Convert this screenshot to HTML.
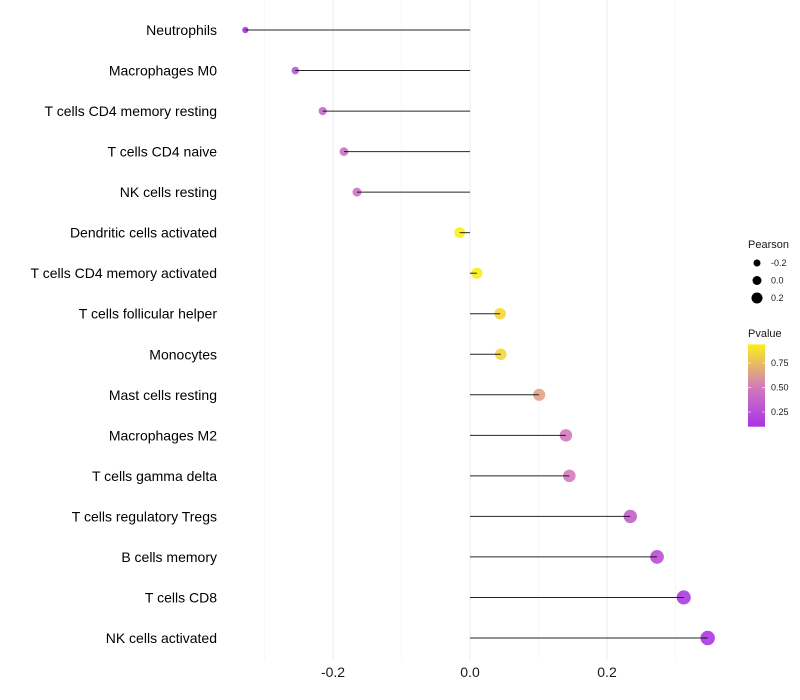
<!DOCTYPE html>
<html><head><meta charset="utf-8"><style>
body{margin:0;background:#fff;}
svg{display:block;font-family:"Liberation Sans",sans-serif;}
</style></head><body>
<svg id="chart" width="800" height="700"></svg>
<script>
const categories=["Neutrophils","Macrophages M0","T cells CD4 memory resting","T cells CD4 naive","NK cells resting","Dendritic cells activated","T cells CD4 memory activated","T cells follicular helper","Monocytes","Mast cells resting","Macrophages M2","T cells gamma delta","T cells regulatory  Tregs ","B cells memory","T cells CD8","NK cells activated"];
const pearson=[-0.328,-0.255,-0.215,-0.184,-0.165,-0.015,0.010,0.044,0.045,0.101,0.140,0.145,0.234,0.273,0.312,0.347];
const pvalue=[0.10,0.30,0.40,0.45,0.45,0.94,0.93,0.85,0.85,0.65,0.50,0.50,0.35,0.25,0.15,0.12];
const xTicks=[-0.2,0.0,0.2];
const xTickLabels=["-0.2","0.0","0.2"];
const xMinor=[-0.3,-0.1,0.1,0.3];
const sizeBreaks=[-0.2,0.0,0.2];
const pBreaks=[0.25,0.50,0.75];

const NS="http://www.w3.org/2000/svg";
const svg=document.getElementById('chart');
function mk(tag,attrs,parent){const e=document.createElementNS(NS,tag);for(const k in attrs)e.setAttribute(k,attrs[k]);(parent||svg).appendChild(e);return e;}
const x=v=>470+v*685;
const y=i=>30+i*(608/15);
const pmin=Math.min(...pvalue),pmax=Math.max(...pvalue),vmin=Math.min(...pearson),vmax=Math.max(...pearson);
const r=v=>Math.sqrt(10+(v-vmin)/(vmax-vmin)*42);
function lerp(a,b,t){return Math.round(a+(b-a)*t);}
const stops=[[0,[160,32,240]],[0.5,[210,122,190]],[1,[255,255,0]]];
function col(p){let t=Math.max(0,Math.min(1,p));for(let i=0;i<stops.length-1;i++){const[a,ca]=stops[i],[b,cb]=stops[i+1];if(t<=b){const u=(t-a)/(b-a);return `rgb(${lerp(ca[0],cb[0],u)},${lerp(ca[1],cb[1],u)},${lerp(ca[2],cb[2],u)})`;}}return 'rgb(255,255,0)';}

const grid=mk('g',{});


xMinor.forEach(v=>mk('line',{x1:x(v),x2:x(v),y1:0,y2:660,stroke:'#f2f2f2','stroke-width':0.6},grid));
xTicks.forEach(v=>mk('line',{x1:x(v),x2:x(v),y1:0,y2:660,stroke:'#ebebeb','stroke-width':1},grid));

xTicks.forEach((v,i)=>{const t=mk('text',{x:x(v),y:677,'text-anchor':'middle','font-size':14,fill:'#1a1a1a'});t.textContent=xTickLabels[i];

});

categories.forEach((c,i)=>{
const t=mk('text',{x:217,y:y(i)+5,'text-anchor':'end','font-size':14,fill:'#000'});t.textContent=c;


const pt=mk('circle',{cx:x(pearson[i]),cy:y(i),r:r(pearson[i]),fill:col(pvalue[i]),'fill-opacity':0.9});


const ln=mk('line',{x1:x(0),x2:x(pearson[i]),y1:y(i),y2:y(i),stroke:'#000','stroke-width':1,'stroke-opacity':0.85});


});

const lg=mk('g',{});


const lt=mk('text',{x:748,y:248,'font-size':11,fill:'#1a1a1a'},lg);lt.textContent='Pearson';
sizeBreaks.forEach((v,i)=>{const cy=263+i*17.5;const sr=3.5+i*1;
mk('circle',{cx:757,cy:cy,r:sr,fill:'#000'},lg);
const t=mk('text',{x:771,y:cy+3,'font-size':9,fill:'#1a1a1a'},lg);t.textContent=v.toFixed(1);});
const lt2=mk('text',{x:748,y:337,'font-size':11,fill:'#1a1a1a'},lg);lt2.textContent='Pvalue';
const defs=mk('defs',{});
const gr=mk('linearGradient',{id:'pg',x1:0,y1:1,x2:0,y2:0},defs);
const pyT=v=>436.5-v*98;
const gTop=pyT(pmax),gBot=pyT(pmin);
for(let k=0;k<=10;k++){const p=pmin+(pmax-pmin)*k/10;mk('stop',{offset:k/10,'stop-color':col(p)},gr);}
mk('rect',{x:748,y:gTop,width:17,height:gBot-gTop,fill:'url(#pg)'},lg);
pBreaks.forEach(v=>{const yy=pyT(v);
mk('line',{x1:748,x2:751,y1:yy,y2:yy,stroke:'#fff','stroke-width':0.6},lg);
mk('line',{x1:762,x2:765,y1:yy,y2:yy,stroke:'#fff','stroke-width':0.6},lg);
const t=mk('text',{x:771,y:yy+3,'font-size':9,fill:'#1a1a1a'},lg);t.textContent=v.toFixed(2);});
</script>
</body></html>
